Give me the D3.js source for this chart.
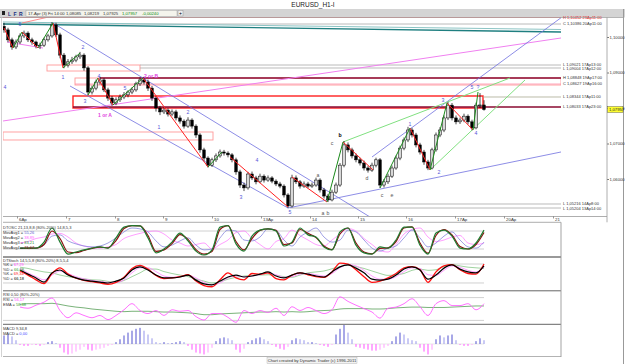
<!DOCTYPE html>
<html>
<head>
<meta charset="utf-8">
<script src="https://cdn.jsdelivr.net/npm/d3@7"></script>
<style>
  html, body { margin: 0; padding: 0; background: #fff; }
  svg { display: block; font-family: "Liberation Sans", Arial, sans-serif; }
</style>
</head>
<body>
<div id="chart"></div>
<script>
// ---------------- data ----------------
const chartTitle = 'EURUSD_H1-I';
const barInfo = ['17-Apr (3) Fri 14:00', '1,08085', '1,08219', '1,07925', '1,07957', '-0,00240'];

// H1 candles (one entry every 2 bars), open = previous close
const firstOpen = 1.1030;
const closes = [
  1.1020, 1.0992, 1.0972, 1.0986, 1.1003, 1.1011, 1.0992, 1.0986, 1.0975, 1.0977,
  1.0992, 1.1003, 1.1034, 1.1006, 1.0949, 1.0921, 1.0930, 1.0935, 1.0944, 1.0949,
  1.0913, 1.0845, 1.0856, 1.0873, 1.0879, 1.0851, 1.0828, 1.0814, 1.0823, 1.0831,
  1.0837, 1.0845, 1.0851, 1.0868, 1.0879, 1.0873, 1.0856, 1.0828, 1.0800, 1.0789,
  1.0794, 1.0783, 1.0789, 1.0772, 1.0763, 1.0749, 1.0766, 1.0749, 1.0724, 1.0682,
  1.0659, 1.0639, 1.0654, 1.0665, 1.0676, 1.0673, 1.0668, 1.0654, 1.0620, 1.0583,
  1.0575, 1.0614, 1.0603, 1.0592, 1.0608, 1.0597, 1.0603, 1.0594, 1.0586, 1.0580,
  1.0555, 1.0524, 1.0603, 1.0592, 1.0580, 1.0586, 1.0580, 1.0583, 1.0597, 1.0569,
  1.0552, 1.0541, 1.0563, 1.0583, 1.0639, 1.0696, 1.0682, 1.0665, 1.0654, 1.0645,
  1.0631, 1.0625, 1.0639, 1.0654, 1.0583, 1.0592, 1.0608, 1.0631, 1.0659, 1.0687,
  1.0710, 1.0738, 1.0724, 1.0696, 1.0676, 1.0648, 1.0631, 1.0682, 1.0724, 1.0738,
  1.0772, 1.0808, 1.0772, 1.0761, 1.0766, 1.0777, 1.0761, 1.0744, 1.0808, 1.08085,
  1.07957
];
const highs = [
  1.1040, 1.1026, 1.0998, 1.0993, 1.1010, 1.1018, 1.1016, 1.0998, 1.0990, 1.0984,
  1.0998, 1.1009, 1.1042, 1.1040, 1.1012, 1.0955, 1.0938, 1.0944, 1.0950, 1.0958,
  1.0954, 1.0918, 1.0863, 1.0880, 1.0887, 1.0884, 1.0857, 1.0834, 1.0830, 1.0838,
  1.0845, 1.0850, 1.0858, 1.0874, 1.0886, 1.0888, 1.0880, 1.0862, 1.0834, 1.0806,
  1.0802, 1.0799, 1.0796, 1.0795, 1.0779, 1.0768, 1.0774, 1.0771, 1.0754, 1.0729,
  1.0688, 1.0664, 1.0660, 1.0672, 1.0683, 1.0682, 1.0678, 1.0673, 1.0660, 1.0626,
  1.0590, 1.0620, 1.0621, 1.0609, 1.0615, 1.0613, 1.0610, 1.0608, 1.0599, 1.0592,
  1.0585, 1.0560, 1.0612, 1.0610, 1.0597, 1.0593, 1.0592, 1.0590, 1.0604, 1.0602,
  1.0575, 1.0558, 1.0570, 1.0590, 1.0645, 1.0707, 1.0703, 1.0688, 1.0672, 1.0660,
  1.0652, 1.0637, 1.0646, 1.0660, 1.0659, 1.0600, 1.0615, 1.0638, 1.0666, 1.0694,
  1.0717, 1.0747, 1.0744, 1.0730, 1.0702, 1.0682, 1.0654, 1.0688, 1.0731, 1.0746,
  1.0779, 1.0817, 1.0814, 1.0779, 1.0773, 1.0784, 1.0782, 1.0767, 1.0815, 1.0842,
  1.08219
];
const lows = [
  1.1012, 1.0985, 1.0964, 1.0966, 1.0980, 1.0997, 1.0986, 1.0978, 1.0968, 1.0966,
  1.0972, 1.0987, 1.0998, 1.1000, 1.0940, 1.0912, 1.0914, 1.0924, 1.0929, 1.0938,
  1.0905, 1.0836, 1.0838, 1.0850, 1.0866, 1.0845, 1.0820, 1.0806, 1.0808, 1.0817,
  1.0825, 1.0830, 1.0839, 1.0846, 1.0862, 1.0866, 1.0848, 1.0820, 1.0790, 1.0780,
  1.0783, 1.0776, 1.0777, 1.0765, 1.0756, 1.0742, 1.0744, 1.0742, 1.0716, 1.0674,
  1.0650, 1.0632, 1.0634, 1.0648, 1.0660, 1.0666, 1.0661, 1.0647, 1.0612, 1.0575,
  1.0566, 1.0570, 1.0597, 1.0585, 1.0588, 1.0590, 1.0592, 1.0588, 1.0580, 1.0574,
  1.0548, 1.0518, 1.0520, 1.0586, 1.0573, 1.0575, 1.0574, 1.0575, 1.0578, 1.0562,
  1.0545, 1.0535, 1.0537, 1.0558, 1.0578, 1.0633, 1.0675, 1.0658, 1.0647, 1.0638,
  1.0624, 1.0618, 1.0620, 1.0633, 1.0575, 1.0576, 1.0586, 1.0603, 1.0626, 1.0653,
  1.0681, 1.0704, 1.0717, 1.0689, 1.0669, 1.0640, 1.0625, 1.0627, 1.0677, 1.0718,
  1.0732, 1.0766, 1.0765, 1.0754, 1.0755, 1.0760, 1.0754, 1.0737, 1.0740, 1.0800,
  1.07925
];
const lastPrice = 1.07957;

// axis ticks
const priceTicks = [1.06, 1.07, 1.08, 1.09, 1.10];
const dateTicks = [3.25, 15.5, 27.75, 39.75, 52, 64.25, 76.5, 88.5, 100.5, 112.75, 125, 137.25];
const dateLabels = ['6Ap', '7', '8', '9', '10', '13Ap', '14', '15', '16', '17Ap', '20Ap', '21'];

// horizontal levels: price, first bar, label, kind
const levelPrices = [1.10549, 1.10366, 1.09211, 1.09127, 1.08845, 1.08676, 1.08310, 1.08028, 1.05296, 1.05183];
const levelStart = [-0.25, -0.25, 34, 34, 24, 17.75, 119.75, 17.25, 71.5, 71.5];
const levelLabels = ['H 1,10452 23Ap11:00', 'C 1,10386 20Ap11:00', 'L 1,09021 17Ap13:00', 'L 1,09004 17Ap12:00',
  'H 1,08848 19Ap17:00', 'C 1,08627 19Ap16:00', 'L 1,08344 17Ap11:00', 'L 1,08033 17Ap23:00',
  'L 1,05216 14Ap8:00', 'L 1,05204 13Ap14:00'];
const levelKinds = ['red', 'gray', 'gray', 'gray', 'maroon', 'pink', 'olive', 'maroon', 'gray', 'gray'];

// zones [bar1, price1, bar2, price2]
const zoneRects = [[10.75, 1.09211, 34, 1.09042], [17.75, 1.08845, 139.25, 1.08648],
  [17.25, 1.08338, 119.75, 1.08000], [-0.25, 1.07324, 52.25, 1.07099]];
const zoneKinds = ['pink', 'pink', 'red', 'pink'];

// trend lines [bar1, price1, bar2, price2]
const tealLines = [[-0.25, 1.10366, 139.25, 1.10141]];
const tealLightLines = [[-0.25, 1.10423, 139.25, 1.10211]];
const violetLines = [[-0.25, 1.07634, 139.25, 1.09972], [0.75, 1.09859, 9.75, 1.09690]];
const salmonLines = [[4.5, 1.10394, 17.75, 1.10732]];
const blueLines = [[12.25, 1.10394, 91.5, 1.04930], [16.5, 1.08620, 71, 1.05183],
  [71, 1.05183, 139.25, 1.06761], [92, 1.06620, 139.5, 1.10563]];
const lightGreenLines = [[84.75, 1.07042, 126.5, 1.08845], [106.5, 1.06254, 130.25, 1.08789]];
const redWaves = [[0, 1.10254, 2.25, 1.09690], [4.5, 1.10141, 8.5, 1.09690], [12.25, 1.10394, 14.75, 1.09127],
  [23.5, 1.08845, 27.25, 1.08085], [34.75, 1.08845, 51, 1.06338], [56.5, 1.06620, 71, 1.05211],
  [72, 1.06056, 80.75, 1.05352], [84.75, 1.07042, 92.25, 1.06254], [101.5, 1.07437, 106.5, 1.06254],
  [110.75, 1.08141, 117.25, 1.07380]];
const greenWaves = [[2.25, 1.09690, 4.5, 1.10141], [8.5, 1.09690, 12.25, 1.10394], [14.75, 1.09127, 19, 1.09549],
  [21, 1.08366, 23.5, 1.08845], [27.25, 1.08085, 34.75, 1.08845], [51, 1.06338, 54.5, 1.06761],
  [80.75, 1.05352, 84.75, 1.07042], [94, 1.05746, 101.5, 1.07437], [106.5, 1.06254, 110.75, 1.08141],
  [117.25, 1.07380, 118.5, 1.08451]];

// wave labels
const waveText = ['4', '5', '1', '2', '3', '4', '5', '1', '2', '3', '4', '5', 'a', 'b', 'a', 'b', 'c', 'd', 'c', 'e',
  '1', '2', '3', '4', '5', '?', '1 or A', '2 or B'];
const waveBar = [0.25, 4, 14.75, 19.75, 20.25, 23.75, 30.25, 38.75, 46, 59.25, 63.25, 71.5, 79.75, 81, 78.5, 84, 82, 90.75,
  94.5, 97, 101.5, 108.75, 109.75, 118, 117, 118.5, 25.25, 36.75];
const wavePrice = [1.08592, 1.10366, 1.08873, 1.09718, 1.08197, 1.08901, 1.08563, 1.07465, 1.07887, 1.05493, 1.06535,
  1.05070, 1.05042, 1.05042, 1.06113, 1.07239, 1.07014, 1.06028, 1.05549, 1.05549, 1.07549, 1.06197, 1.08225,
  1.07296, 1.08592, 1.08592, 1.07803, 1.08901];
const waveKind = ['blue', 'blue', 'blue', 'blue', 'blue', 'blue', 'blue', 'blue', 'blue', 'blue', 'blue', 'blue',
  'dark', 'dark', 'dark', 'bold', 'dark', 'dark', 'dark', 'dark', 'blue', 'blue', 'blue', 'blue', 'blue', 'blue',
  'pink', 'pink'];

// indicators, one point every 2 bars starting at bar 4
const indStart = 4, indStep = 2;
const oscGreen = [23,23,23,43,90,43,3,10,17,23,27,23,57,93,98,97,57,7,20,43,73,47,13,0,17,93,98,37,13,63,
  83,87,80,30,43,90,67,60,27,17,77,90,33,7,3,27,23,50,93,93,33,3,73,83,63,23,20,40,83];
const oscRed = [22,23,23,35,80,55,10,8,15,22,26,24,48,88,98,97,65,12,17,38,68,52,18,3,12,85,98,45,17,55,
  82,87,82,35,40,85,72,58,30,18,70,90,40,10,4,22,24,45,90,94,40,6,65,85,67,28,20,35,75];
const oscBlue = [23,23,23,33,63,67,47,37,30,27,30,40,57,77,90,87,77,47,27,33,47,57,33,17,20,57,83,80,50,47,
  60,87,83,50,30,60,77,90,60,43,50,83,77,50,23,13,23,30,57,83,57,27,40,63,77,50,27,23,43];
const oscPink = [40,45,55,60,70,72,60,40,30,25,23,27,35,55,65,72,78,80,70,50,40,30,35,40,20,35,50,75,80,55,
  35,20,45,55,83,65,50,35,30,50,70,88,80,55,35,15,10,35,70,85,90,60,45,50,60,65,40,35,40];
const stochBlack = [61,48,36,23,52,61,45,36,29,26,23,20,26,36,61,71,61,45,36,36,39,45,29,17,14,26,39,45,39,42,
  48,55,42,36,45,52,48,42,39,55,71,77,67,52,32,29,32,45,64,71,61,32,45,67,77,64,55,52,74];
const stochRed = [58,45,30,18,50,68,48,35,28,24,20,16,22,38,66,76,64,44,34,36,40,46,26,12,8,30,52,36,30,50,
  48,52,34,30,45,52,46,40,38,55,83,80,62,40,22,26,36,50,68,72,62,22,55,74,78,62,50,48,80];
const stochGreen = [70,66,60,55,52,45,40,36,33,30,29,25,22,28,40,52,64,64,56,50,45,40,32,26,20,24,32,38,42,44,
  45,46,44,40,38,45,52,55,58,65,72,76,72,66,58,50,44,46,50,60,64,60,62,72,78,74,70,68,66];
const stochPink = [66,52,40,30,45,58,50,40,33,28,25,22,22,30,52,68,68,56,42,38,40,44,36,22,14,20,36,42,40,42,
  46,52,46,38,40,48,50,46,42,50,68,78,74,60,42,32,32,40,56,68,66,46,44,60,74,70,60,55,70];
const rsiValues = [55,52,60,68,79,46,27,40,33,27,33,22,33,48,64,46,38,46,33,48,44,46,30,21,38,38,28,15,46,38,
  46,41,52,33,56,46,54,46,38,48,82,70,60,51,42,26,52,55,64,77,56,33,64,72,59,59,64,48,64];
const rsiEma = [62,64,64,64,65,62,58,55,53,50,48,46,44,43,44,44,44,43,42,42,41,40,38,35,35,37,38,39,40,41,
  42,42,43,42,43,42,43,45,46,47,50,51,51,51,50,50,51,53,54,55,55,54,54,54,55,56,57,58,58];
// MACD histogram, one bar per candle
const macdHist = [
  0.0009, 0.0010, 0.0008, 0.0004, -0.0001, -0.0002, -0.0002, -0.0001, -0.0001, -0.0002,
  -0.0001, 0.0002, 0.0003, 0.0001, -0.0004, -0.0009, -0.0011, -0.0010, -0.0008, -0.0006,
  -0.0003, -0.0006, -0.0007, -0.0006, -0.0005, -0.0004, -0.0002, -0.0001, 0.0002, 0.0005,
  0.0009, 0.0012, 0.0014, 0.0016, 0.0017, 0.0014, 0.0010, 0.0006, 0.0002, 0.0001,
  0.0002, 0.0001, 0.0001, 0.0002, 0.0003, 0.0002, -0.0002, -0.0006, -0.0009, -0.0010,
  -0.0011, -0.0009, -0.0004, 0.0003, 0.0006, 0.0007, 0.0006, 0.0004, -0.0006, -0.0009,
  -0.0005, 0.0002, 0.0004, 0.0006, 0.0007, 0.0005, 0.0003, -0.0001, -0.0003, -0.0005,
  -0.0006, -0.0003, 0.0004, 0.0006, 0.0005, 0.0004, 0.0002, 0.0002, 0.0001, -0.0001,
  -0.0002, -0.0003, -0.0001, 0.0010, 0.0016, 0.0020, 0.0012, 0.0005, -0.0003, -0.0004,
  -0.0005, -0.0006, -0.0007, -0.0007, -0.0006, -0.0004, -0.0002, 0.0003, 0.0008, 0.0012,
  0.0010, 0.0006, 0.0004, 0.0003, -0.0004, -0.0008, -0.0011, -0.0006, 0.0005, 0.0009,
  0.0007, 0.0009, 0.0010, 0.0004, -0.0001, -0.0002, -0.0002, -0.0001, 0.0003, 0.0006,
  0.0004
];
const bandLevels = [20, 80];

// ---------------- drawing ----------------
const W = 625, H = 364;
const svg = d3.select('#chart').append('svg').attr('width', W).attr('height', H);
svg.append('rect').attr('width', W).attr('height', H).attr('fill', '#fff');

// Set up scales
const x = d3.scaleLinear().domain([0, 120]).range([4, 484]);
const y = d3.scaleLinear().domain([1.06, 1.10]).range([179, 37]);
const oscY = d3.scaleLinear().domain([0, 100]).range([255, 225]);
const stochY = d3.scaleLinear().domain([0, 100]).range([289.3, 257.7]);
const rsiY = d3.scaleLinear().domain([0, 100]).range([328, 290]);
const macdY = d3.scaleLinear().domain([-0.002, 0.002]).range([363, 325]);
const indX = k => x(indStart + k * indStep);

const plotL = 3, plotR = 561, mainTop = 17.5, mainBottom = 216.5;

// title + toolbar
svg.append('text').attr('x', 313).attr('y', 7).attr('text-anchor', 'middle')
  .attr('font-size', 6.5).attr('fill', '#222').text(chartTitle);
svg.append('rect').attr('x', 0).attr('y', 9).attr('width', W).attr('height', 8.5).attr('fill', '#d4d4d4');
svg.append('rect').attr('x', 2).attr('y', 11).attr('width', 3).attr('height', 4).attr('fill', '#222');
['L', 'F', 'R'].forEach((t, k) => {
  svg.append('text').attr('x', 8 + k * 5.5).attr('y', 15.6).attr('font-size', 5).attr('font-weight', 'bold')
    .attr('fill', '#203080').text(t);
});
svg.append('rect').attr('x', 26).attr('y', 10.3).attr('width', 151).attr('height', 6).attr('fill', '#f4f4ec')
  .attr('stroke', '#999').attr('stroke-width', 0.4);
const infoX = [28, 66, 84, 103, 122, 142];
barInfo.forEach((t, k) => {
  svg.append('text').attr('x', infoX[k]).attr('y', 15.3).attr('font-size', 4.2)
    .attr('fill', k >= 4 ? '#0a8a0a' : '#333').text(t);
});
svg.append('rect').attr('x', 178).attr('y', 10.5).attr('width', 5).attr('height', 5.5).attr('fill', '#eee')
  .attr('stroke', '#888').attr('stroke-width', 0.4);
svg.append('text').attr('x', 180.5).attr('y', 15.2).attr('text-anchor', 'middle').attr('font-size', 5).text('+');

// clip for the main chart
const defs = svg.append('defs');
defs.append('clipPath').attr('id', 'mainClip').append('rect')
  .attr('x', plotL).attr('y', mainTop).attr('width', plotR - plotL).attr('height', mainBottom - mainTop);
defs.append('clipPath').attr('id', 'subClip').append('rect')
  .attr('x', plotL).attr('y', 222).attr('width', plotR - plotL).attr('height', 136);

const main = svg.append('g').attr('clip-path', 'url(#mainClip)');

const levelColor = { red: '#ff4040', gray: '#a8a8a8', maroon: '#8a0a30', pink: '#ff90a8', olive: '#a8a890' };
const zoneColor = { pink: '#ff9898', red: '#ff2020' };

// zones
zoneRects.forEach((z, k) => {
  main.append('rect')
    .attr('x', x(z[0])).attr('y', y(z[1]))
    .attr('width', x(z[2]) - x(z[0])).attr('height', y(z[3]) - y(z[1]))
    .attr('fill', 'none').attr('stroke', zoneColor[zoneKinds[k]])
    .attr('stroke-width', zoneKinds[k] === 'red' ? 1.4 : 0.9);
});

// levels
levelPrices.forEach((p, k) => {
  main.append('line')
    .attr('x1', x(levelStart[k])).attr('x2', plotR)
    .attr('y1', y(p)).attr('y2', y(p))
    .attr('stroke', levelColor[levelKinds[k]])
    .attr('stroke-width', levelKinds[k] === 'maroon' ? 1.3 : 0.8);
});

// level labels: spread out labels whose levels sit too close together
const labelPos = levelPrices.map((p, k) => ({ k, ty: y(p) })).sort((a, b) => a.ty - b.ty);
const minGap = 4.4;
for (let n = 1; n < labelPos.length; n++) {
  const gap = labelPos[n].ty - labelPos[n - 1].ty;
  if (gap < minGap) {
    const shift = (minGap - gap) / 2;
    labelPos[n - 1].ty -= shift;
    labelPos[n].ty += shift;
  }
}
labelPos.forEach(d => {
  svg.append('text').attr('x', 563).attr('y', d.ty + 1.4).attr('font-size', 4)
    .attr('fill', levelKinds[d.k] === 'red' ? '#e00000' : '#333').text(levelLabels[d.k]);
});

// trend lines
function drawSegs(list, color, width) {
  main.selectAll(null).data(list).enter().append('line')
    .attr('x1', d => x(d[0])).attr('y1', d => y(d[1]))
    .attr('x2', d => x(d[2])).attr('y2', d => y(d[3]))
    .attr('stroke', color).attr('stroke-width', width);
}
drawSegs(tealLightLines, '#8cc4c4', 1);
drawSegs(tealLines, '#1f7f80', 1.3);
drawSegs(violetLines, '#f080f0', 1);
drawSegs(salmonLines, '#ff8080', 0.9);
drawSegs(blueLines, '#7070e0', 0.8);
drawSegs(lightGreenLines, '#80e080', 1);

// candles
const candles = closes.map((c, i) => ({
  i, o: i === 0 ? firstOpen : closes[i - 1], h: highs[i], l: lows[i], c
}));
main.selectAll('.wick').data(candles).enter().append('line')
  .attr('x1', d => x(d.i)).attr('x2', d => x(d.i))
  .attr('y1', d => y(d.h)).attr('y2', d => y(d.l))
  .attr('stroke', '#000').attr('stroke-width', 0.7);
main.selectAll('.body').data(candles).enter().append('rect')
  .attr('x', d => x(d.i) - 1.3).attr('width', 2.6)
  .attr('y', d => y(Math.max(d.o, d.c)))
  .attr('height', d => Math.max(0.8, Math.abs(y(d.o) - y(d.c))))
  .attr('fill', d => d.c >= d.o ? '#d8d8d8' : '#000')
  .attr('stroke', '#000').attr('stroke-width', 0.5);

// wave lines
drawSegs(redWaves, '#ff2020', 1);
drawSegs(greenWaves, '#1a8a1a', 1);

// wave labels
const waveColor = { blue: '#5858d8', dark: '#555', bold: '#000', pink: '#e040e0' };
waveText.forEach((t, k) => {
  main.append('text').attr('x', x(waveBar[k])).attr('y', y(wavePrice[k]) + 1.8)
    .attr('text-anchor', 'middle').attr('font-size', t.length > 1 ? 5 : 5.2)
    .attr('font-weight', waveKind[k] === 'bold' || waveKind[k] === 'pink' ? 'bold' : 'normal')
    .attr('fill', waveColor[waveKind[k]]).text(t);
});

// frame of the main chart
svg.append('line').attr('x1', 0).attr('x2', 623.5).attr('y1', mainTop).attr('y2', mainTop).attr('stroke', '#909090').attr('stroke-width', 0.6);
svg.append('line').attr('x1', plotL).attr('x2', 607).attr('y1', mainBottom).attr('y2', mainBottom).attr('stroke', '#999').attr('stroke-width', 0.8);
svg.append('line').attr('x1', plotL).attr('x2', plotR).attr('y1', 222.3).attr('y2', 222.3).attr('stroke', '#999').attr('stroke-width', 0.8);
svg.append('line').attr('x1', 1.5).attr('x2', 1.5).attr('y1', mainTop).attr('y2', 357).attr('stroke', '#c8c8c8').attr('stroke-width', 0.8);
svg.append('line').attr('x1', 623.5).attr('x2', 623.5).attr('y1', 9).attr('y2', H).attr('stroke', '#999').attr('stroke-width', 1);

// price axis
const yAxis = svg.append('g').attr('transform', 'translate(607,0)')
  .call(d3.axisRight(y).tickValues(priceTicks).tickSize(2)
    .tickFormat(d => d.toFixed(5).replace('.', ',')));
yAxis.select('.domain').remove();
yAxis.selectAll('text').attr('font-size', 4.2).attr('fill', '#333').attr('x', 2.5)
  .attr('font-family', '"Liberation Sans", Arial, sans-serif');
yAxis.selectAll('line').attr('stroke', '#777');
svg.append('line').attr('x1', 607).attr('x2', 607).attr('y1', mainTop).attr('y2', 222.3).attr('stroke', '#999').attr('stroke-width', 0.8);

// last price box
svg.append('rect').attr('x', 607.5).attr('y', y(lastPrice) - 3).attr('width', 15.5).attr('height', 6)
  .attr('fill', '#ffff30').attr('stroke', '#444').attr('stroke-width', 0.4);
svg.append('text').attr('x', 609).attr('y', y(lastPrice) + 1.5).attr('font-size', 4.2).attr('fill', '#222')
  .text(lastPrice.toFixed(5).replace('.', ','));

// date axis
const xAxis = svg.append('g').attr('transform', `translate(0,${mainBottom})`)
  .call(d3.axisBottom(x).tickValues(dateTicks).tickSize(2).tickFormat((d, k) => dateLabels[k]));
xAxis.select('.domain').remove();
xAxis.selectAll('line').attr('stroke', '#555').attr('stroke-width', 0.6);
xAxis.selectAll('text').attr('font-size', 4.4).attr('fill', '#333').attr('text-anchor', 'start')
  .attr('x', 1.5).attr('y', 1.2).attr('dy', '0.71em').attr('font-family', '"Liberation Sans", Arial, sans-serif');

// ---------------- indicator panels ----------------
const sub = svg.append('g').attr('clip-path', 'url(#subClip)');

function bands(scale) {
  bandLevels.forEach(v => {
    sub.append('line').attr('x1', plotL).attr('x2', x(120)).attr('y1', scale(v)).attr('y2', scale(v))
      .attr('stroke', '#c4c4c4').attr('stroke-width', 0.8);
  });
}
function drawLine(values, scale, color, width) {
  sub.append('path').datum(values)
    .attr('d', d3.line().x((d, k) => indX(k)).y(d => scale(d)).curve(d3.curveMonotoneX))
    .attr('fill', 'none').attr('stroke', color).attr('stroke-width', width);
}

// DTOSC
bands(oscY);
drawLine(oscPink, oscY, '#ff88ff', 0.8);
drawLine(oscBlue, oscY, '#8888dd', 0.8);
drawLine(oscRed, oscY, '#8a1010', 1.2);
drawLine(oscGreen, oscY, '#1e7a2e', 1.2);

// DTStoch
bands(stochY);
drawLine(stochGreen, stochY, '#88c888', 0.8);
drawLine(stochPink, stochY, '#ff88ff', 0.8);
drawLine(stochRed, stochY, '#ff1010', 1.3);
drawLine(stochBlack, stochY, '#000', 1.2);

// RSI
bands(rsiY);
drawLine(rsiEma, rsiY, '#58a058', 0.8);
drawLine(rsiValues, rsiY, '#ff60ff', 0.9);

// MACD histogram
sub.append('line').attr('x1', plotL).attr('x2', x(120)).attr('y1', macdY(0)).attr('y2', macdY(0))
  .attr('stroke', '#d8d8d8').attr('stroke-width', 0.6);
sub.selectAll('.macd').data(macdHist).enter().append('rect')
  .attr('x', (d, i) => x(i) - 0.6).attr('width', 1.2)
  .attr('y', d => macdY(Math.max(0, d)))
  .attr('height', d => Math.abs(macdY(d) - macdY(0)))
  .attr('fill', (d, i) => {
    const prev = i > 0 ? macdHist[i - 1] : d;
    if (d >= 0) return d >= prev ? '#7070d8' : '#a8a8ee';
    return d <= prev ? '#ff70ff' : '#ffb0ff';
  });

// panel separators
svg.append('line').attr('x1', plotL).attr('x2', plotR).attr('y1', 257).attr('y2', 257).attr('stroke', '#999').attr('stroke-width', 2);
svg.append('line').attr('x1', plotL).attr('x2', plotR).attr('y1', 290.8).attr('y2', 290.8).attr('stroke', '#555').attr('stroke-width', 0.9);
svg.append('line').attr('x1', plotL).attr('x2', plotR).attr('y1', 324.3).attr('y2', 324.3).attr('stroke', '#555').attr('stroke-width', 0.9);
svg.append('line').attr('x1', plotL).attr('x2', plotR).attr('y1', 356.5).attr('y2', 356.5).attr('stroke', '#aaa').attr('stroke-width', 0.9);
svg.append('line').attr('x1', plotR).attr('x2', plotR).attr('y1', 222.3).attr('y2', 357).attr('stroke', '#999').attr('stroke-width', 0.9);

// panel legends
function legend(yPos, parts) {
  const t = svg.append('text').attr('x', 3).attr('y', yPos).attr('font-size', 4);
  parts.forEach(p => t.append('tspan').attr('fill', p[1]).text(p[0]));
}
legend(228.5, [['DTOSC 21,13,8,8 (80%-20%) 14,8,5,3', '#333']]);
legend(233.5, [['MovAvg1 = ', '#333'], ['55,26', '#6060d0']]);
legend(238.5, [['MovAvg2 = ', '#333'], ['38,89', '#ff60ff']]);
legend(243.5, [['MovAvg3 = ', '#333'], ['83,21', '#1e8a2e']]);
legend(248.5, [['MovAvg4 = ', '#333'], ['71,67', '#8a1010']]);
legend(261.5, [['DTStoch 14,5,5,8 (80%-20%) 8,5,5,4', '#333']]);
legend(266, [['%K = ', '#333'], ['67,29', '#ff40ff']]);
legend(270.5, [['%D = ', '#333'], ['66,08', '#30a030']]);
legend(275, [['%K = ', '#333'], ['69,34', '#ff1010']]);
legend(279.5, [['%D = ', '#333'], ['66,18', '#000']]);
legend(295.5, [['RSI 0,50 (80%-20%)', '#333']]);
legend(300.5, [['RSI = ', '#333'], ['56,17', '#ff40ff']]);
legend(305.5, [['EMA = ', '#333'], ['58,38', '#30a030']]);
legend(329.5, [['MACD 9,34,8', '#333']]);
legend(334.5, [['MACD = ', '#333'], ['0,00', '#4040ff']]);

// credit
svg.append('rect').attr('x', 267).attr('y', 357.8).attr('width', 90).attr('height', 5.8)
  .attr('fill', '#f2f2f2').attr('stroke', '#aaa').attr('stroke-width', 0.4);
svg.append('text').attr('x', 312).attr('y', 362.3).attr('text-anchor', 'middle').attr('font-size', 4.2)
  .attr('fill', '#333').text('Chart created by Dynamic Trader  (c) 1996-2011');
</script>
</body>
</html>
